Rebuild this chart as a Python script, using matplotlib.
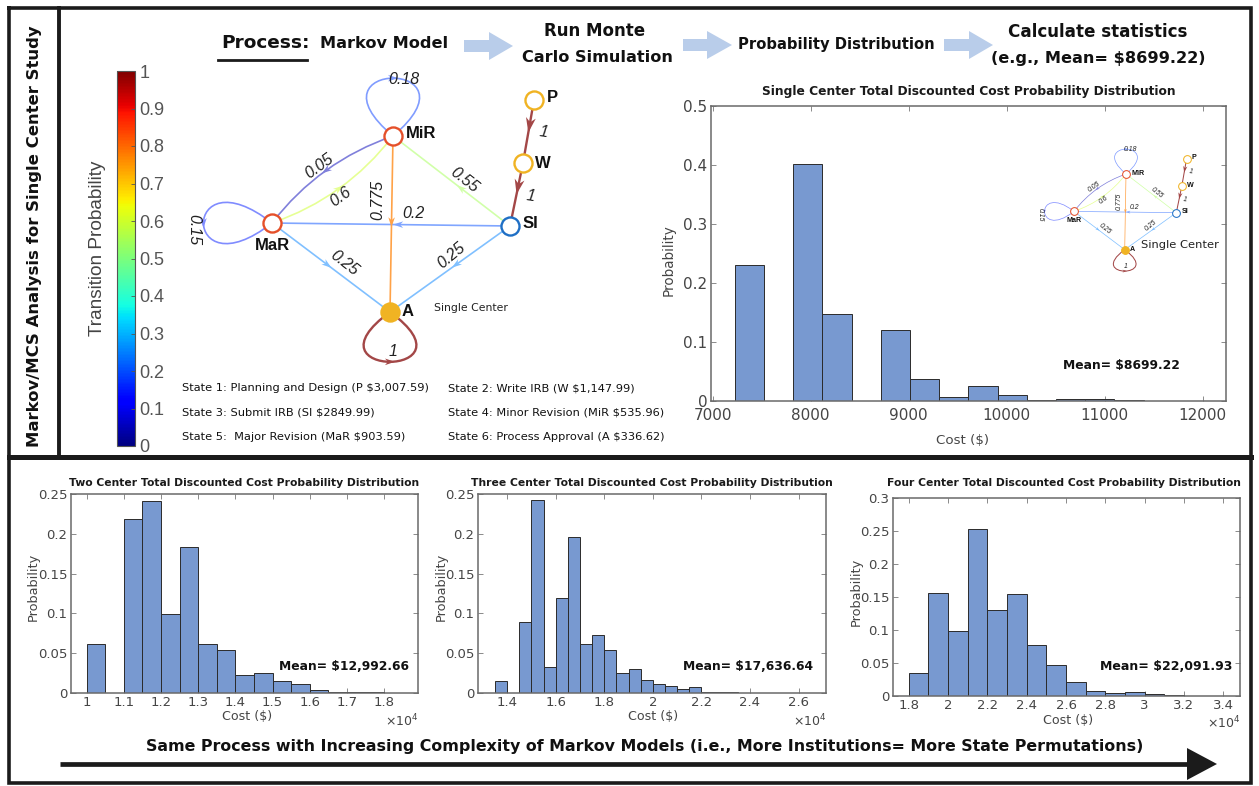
#!/usr/bin/env python3
import numpy as np
import matplotlib
matplotlib.use("Agg")
import matplotlib.pyplot as plt
from matplotlib.patches import Polygon, PathPatch
from matplotlib.path import Path
from matplotlib.colors import Normalize
from matplotlib.colorbar import ColorbarBase

W, H = 1259, 786
COND = ["Liberation Sans Narrow", "DejaVu Sans Condensed", "DejaVu Sans"]
PLAIN = ["Liberation Sans", "DejaVu Sans"]
plt.rcParams["font.family"] = COND

# ---------------- data ----------------
STATES = ["P", "W", "SI", "MiR", "MaR", "A"]
STATE_TEXT = [
    "State 1: Planning and Design (P \\$3,007.59)",
    "State 2: Write IRB (W \\$1,147.99)",
    "State 3: Submit IRB (SI \\$2849.99)",
    "State 4: Minor Revision (MiR \\$535.96)",
    "State 5:  Major Revision (MaR \\$903.59)",
    "State 6: Process Approval (A \\$336.62)",
]
EDGE_SRC = ["MiR", "MiR", "MaR", "MiR", "SI", "SI", "MaR", "SI", "MaR", "A", "P", "W"]
EDGE_DST = ["MiR", "MaR", "MiR", "A", "MiR", "MaR", "A", "A", "MaR", "A", "W", "SI"]
EDGE_P = [0.18, 0.05, 0.6, 0.775, 0.55, 0.2, 0.25, 0.25, 0.15, 1.0, 1.0, 1.0]

HEADER_STEPS = ["Markov Model", "Run Monte\nCarlo Simulation", "Probability Distribution",
                "Calculate statistics\n(e.g., Mean= \\$8699.22)"]

SINGLE_EDGES = [7226, 7524, 7822, 8120, 8418, 8716, 9014, 9312, 9610, 9908,
                10206, 10504, 10802, 11100, 11398]
SINGLE_PROB = [0.230, 0.0, 0.402, 0.148, 0.0, 0.120, 0.037, 0.006, 0.026, 0.011,
               0.001, 0.003, 0.003, 0.001]

TWO_EDGES = [10000, 10500, 11000, 11500, 12000, 12500, 13000, 13500, 14000, 14500,
             15000, 15500, 16000, 16500, 17000, 17500, 18000, 18500]
TWO_PROB = [0.062, 0.0, 0.219, 0.241, 0.099, 0.184, 0.061, 0.054, 0.022, 0.0245,
            0.015, 0.011, 0.0035, 0.0015, 0.0015, 0.0007, 0.0004]

THREE_EDGES = [13500, 14000, 14500, 15000, 15500, 16000, 16500, 17000, 17500, 18000,
               18500, 19000, 19500, 20000, 20500, 21000, 21500, 22000, 22500, 23000,
               23500, 24000, 24500, 25000, 25500, 26000, 26500]
THREE_PROB = [0.0147, 0.0, 0.0895, 0.243, 0.0332, 0.119, 0.1966, 0.061, 0.0727, 0.0546,
              0.0252, 0.0298, 0.0168, 0.0118, 0.0084, 0.0046, 0.0071, 0.0015, 0.0015,
              0.0012, 0.0004, 0.0003, 0.0002, 0.0002, 0.0002, 0.0003]

FOUR_EDGES = [18000, 19000, 20000, 21000, 22000, 23000, 24000, 25000, 26000, 27000,
              28000, 29000, 30000, 31000, 32000, 33000, 34000]
FOUR_PROB = [0.0354, 0.1566, 0.099, 0.2535, 0.1298, 0.155, 0.0768, 0.0465, 0.0207,
             0.0081, 0.004, 0.006, 0.0035, 0.0015, 0.0003, 0.0002]

MEAN_TEXT = ["Mean= \\$8699.22", "Mean= \\$12,992.66", "Mean= \\$17,636.64", "Mean= \\$22,091.93"]
HIST_TITLES = ["Single Center Total Discounted Cost Probability Distribution",
               "Two Center Total Discounted Cost Probability Distribution",
               "Three Center Total Discounted Cost Probability Distribution",
               "Four Center Total Discounted Cost Probability Distribution"]

# ---------------- layout ----------------
NODE_XY = dict(P=(534, 100), W=(523, 163), SI=(510, 226), MiR=(393, 136), MaR=(272, 223), A=(390, 312))
NODE_LABEL_XY = dict(P=(552, 97), W=(543, 163), SI=(530, 223), MiR=(421, 134), MaR=(272, 245), A=(408, 311))
NODE_COLOR = dict(P="#f0b323", W="#f0b323", SI="#1f6fc5", MiR="#e5502a", MaR="#e5502a", A="#f0b323")

EDGE_SHAPE = [
    dict(loop=(0, -1), d=120, th=50, adir=(1, 0), lab=(404, 79), rot=0),
    dict(rad=0.15, lab=(319, 166), rot=36, t=0.5),
    dict(rad=0.15, lab=(341, 197), rot=36, t=0.5),
    dict(rad=0, lab=(378, 200), rot=90, t=0.49),
    dict(rad=0, lab=(464, 180), rot=-38, t=0.42),
    dict(rad=0, lab=(413, 214), rot=0, t=0.47),
    dict(rad=0, lab=(344, 263), rot=-38, t=0.47),
    dict(rad=0, lab=(451, 256), rot=40, t=0.45),
    dict(loop=(-1, 0), d=116, th=38, adir=(0, 1), lab=(194, 230), rot=-90),
    dict(loop=(0, 1), d=113, th=54, adir=(1, 0), lab=(393, 352), rot=0),
    dict(rad=0, lab=(544, 132), rot=-8, t=0.4, ah=15),
    dict(rad=0, lab=(531, 196), rot=-8, t=0.38, ah=15),
]

BAR = "#7899d0"
GRAY = "#454545"

fig = plt.figure(figsize=(W / 100, H / 100), dpi=100)
renderer = fig.canvas.get_renderer()


def px_axes(x0, y0, x1, y1):
    return fig.add_axes([x0 / W, 1 - y1 / H, (x1 - x0) / W, (y1 - y0) / H])


def ftext(x, y, s, width=None, size=12, grow=1.0, **kw):
    kw.setdefault("ha", "center")
    kw.setdefault("va", "center")
    t = fig.text(x / W, 1 - y / H, s, fontsize=size, **kw)
    if width:
        bb = t.get_window_extent(renderer=renderer)
        cur = bb.height if kw.get("rotation", 0) in (90, -90) else bb.width
        t.set_fontsize(size * width * grow / cur)
    return t


def edge_color(p, a=0.55):
    c = np.array(plt.get_cmap("jet")(float(p))[:3])
    return tuple(1 - a * (1 - c))


def rot(v, deg):
    a = np.radians(deg)
    return np.array([v[0] * np.cos(a) - v[1] * np.sin(a), v[0] * np.sin(a) + v[1] * np.cos(a)])


def arrowhead(ax, p, d, size, color):
    d = np.asarray(d, float)
    d = d / np.hypot(*d)
    n = np.array([-d[1], d[0]])
    tip = p + d * size * 0.5
    back = p - d * size * 0.5
    pts = [tip, back + n * size * 0.33, p - d * size * 0.2, back - n * size * 0.33]
    ax.add_patch(Polygon(pts, closed=True, fc=color, ec=color, lw=0, zorder=3))


def draw_network(ax, s=1.0):
    for i, (a, b, p) in enumerate(zip(EDGE_SRC, EDGE_DST, EDGE_P)):
        sh = EDGE_SHAPE[i]
        col = edge_color(p, 0.72 if p >= 0.7 else 0.5)
        lw = (1.7 if p >= 1 else 1.2) * s
        P0 = np.array(NODE_XY[a], float)
        if "loop" in sh:
            u = np.array(sh["loop"], float)
            ua, ub = rot(u, sh["th"]), rot(u, -sh["th"])
            if np.dot(ub - ua, sh["adir"]) < 0:
                ua, ub = ub, ua
            P1 = P0 + sh["d"] * ua
            P2 = P0 + sh["d"] * ub
            path = Path([P0, P1, P2, P0], [Path.MOVETO, Path.CURVE4, Path.CURVE4, Path.CURVE4])
            pt = P0 + 0.375 * sh["d"] * (ua + ub)
            dv = ub - ua
        else:
            P2 = np.array(NODE_XY[b], float)
            v = P2 - P0
            C = (P0 + P2) / 2 + sh["rad"] * np.array([-v[1], v[0]])
            path = Path([P0, C, P2], [Path.MOVETO, Path.CURVE3, Path.CURVE3])
            t = sh["t"]
            pt = (1 - t) ** 2 * P0 + 2 * (1 - t) * t * C + t ** 2 * P2
            dv = 2 * (1 - t) * (C - P0) + 2 * t * (P2 - C)
        ax.add_patch(PathPatch(path, fill=False, ec=col, lw=lw, zorder=2))
        arrowhead(ax, pt, dv, sh.get("ah", 10), col)
        ax.text(sh["lab"][0], sh["lab"][1], f"{p:g}", fontsize=11.5 * s, style="italic",
                family=PLAIN, rotation=sh["rot"], ha="center", va="center", color="#222", zorder=5)
    for name in STATES:
        x, y = NODE_XY[name]
        ax.plot(x, y, "o", ms=13 * s, mfc=NODE_COLOR[name] if name == "A" else "white",
                mec=NODE_COLOR[name], mew=1.7 * s, zorder=4)
        lx, ly = NODE_LABEL_XY[name]
        ax.text(lx, ly, name, fontsize=12 * s, fontweight="bold", family=PLAIN,
                ha="center", va="center", color="#111", zorder=5)


# ---------------- overlay: frames, header, network ----------------
ax0 = fig.add_axes([0, 0, 1, 1])
ax0.set_xlim(0, W)
ax0.set_ylim(H, 0)
ax0.axis("off")

ink = "#1b1b1b"
ax0.plot([9, 1251, 1251, 9, 9], [8, 8, 783, 783, 8], color=ink, lw=2.6, solid_joinstyle="miter")
ax0.plot([9, 1251], [457, 457], color=ink, lw=3.6)
ax0.plot([59, 59], [8, 457], color=ink, lw=2.8)

ftext(35, 236, "Markov/MCS Analysis for Single Center Study", width=410, size=18, grow=1.03,
      rotation=90, fontweight="bold", color="#111")

# process header
ftext(221, 43, "Process:", width=88, size=18, ha="left", fontweight="bold", color="#111")
ax0.plot([218, 307], [60, 60], color=ink, lw=2.0)
ftext(320, 43, HEADER_STEPS[0], width=118, size=16, grow=1.08, ha="left", fontweight="bold", color="#111")
ftext(595, 31, HEADER_STEPS[1].split("\n")[0], width=88, size=16, grow=1.15, fontweight="bold", color="#111")
ftext(597, 57, HEADER_STEPS[1].split("\n")[1], width=137, size=16, grow=1.1, fontweight="bold", color="#111")
ftext(836, 44, HEADER_STEPS[2], width=190, size=16, grow=1.03, fontweight="bold", color="#111")
ftext(1098, 32, HEADER_STEPS[3].split("\n")[0], width=157, size=16, grow=1.15, fontweight="bold", color="#111")
ftext(1098, 58, HEADER_STEPS[3].split("\n")[1], width=195, size=16, grow=1.1, fontweight="bold", color="#111")

for x0, xh, x1, cy in [(464, 489, 513, 46), (683, 707, 732, 45), (944, 969, 993, 45)]:
    ax0.add_patch(Polygon([(x0, cy - 6), (xh, cy - 6), (xh, cy - 14), (x1, cy),
                           (xh, cy + 14), (xh, cy + 6), (x0, cy + 6)],
                          closed=True, fc="#b9cdea", ec="none"))

draw_network(ax0, 1.0)
ftext(471, 308, "Single Center", width=67, size=10, grow=1.1, color="#222")

# state descriptions
t1 = ftext(182, 388, STATE_TEXT[0], width=246, size=11, grow=1.0, ha="left", color="#111")
fs_state = t1.get_fontsize()
for k, txt in enumerate(STATE_TEXT[1:], start=1):
    col, row = k % 2, k // 2
    ftext(182 if col == 0 else 448, 388 + row * 24.5, txt, size=fs_state, ha="left", color="#111")

# colorbar
cax = px_axes(117, 71, 135, 446)
cb = ColorbarBase(cax, cmap=plt.get_cmap("jet"), norm=Normalize(0, 1),
                  ticks=[0, 0.1, 0.2, 0.3, 0.4, 0.5, 0.6, 0.7, 0.8, 0.9, 1])
cb.set_ticklabels(["0", "0.1", "0.2", "0.3", "0.4", "0.5", "0.6", "0.7", "0.8", "0.9", "1"])
cax.tick_params(direction="in", length=3, width=0.6, color="#555", labelsize=13,
                labelcolor="#555", pad=3)
for lbl in cax.get_yticklabels():
    lbl.set_family(PLAIN)
cb.outline.set_edgecolor("#555")
cb.outline.set_linewidth(0.8)
ftext(97, 248, "Transition Probability", width=170, size=14, grow=1.05, rotation=90,
      family=PLAIN, color="#444")


# ---------------- histograms ----------------
def hist_panel(rect, edges, probs, xlim, ylim, xticks, xlabels, yticks, ylabels, fs, xpad=2.5):
    ax = px_axes(*rect)
    e = np.asarray(edges, float)
    ax.bar(e[:-1], probs, width=np.diff(e), align="edge", color=BAR,
           edgecolor="#2b2b2b", linewidth=0.7, zorder=2)
    ax.set_xlim(*xlim)
    ax.set_ylim(*ylim)
    ax.set_xticks(xticks)
    ax.set_xticklabels(xlabels)
    ax.set_yticks(yticks)
    ax.set_yticklabels(ylabels)
    ax.tick_params(direction="in", top=True, right=True, length=3.5, width=0.6,
                   color="#777", labelcolor=GRAY, labelsize=fs, pad=2.5)
    ax.tick_params(axis="x", pad=xpad)
    for sp in ax.spines.values():
        sp.set_color("#6a6a6a")
        sp.set_linewidth(1.1)
    return ax


def g(v):
    return [f"{x:g}" for x in v]


sy = [0, 0.1, 0.2, 0.3, 0.4, 0.5]
sx = [7000, 8000, 9000, 10000, 11000, 12000]
ax1 = hist_panel((711, 106, 1226, 401), SINGLE_EDGES, SINGLE_PROB, (6983, 12239), (0, 0.5),
                 sx, g(sx), sy, g(sy), 11, xpad=5)
by = [0, 0.05, 0.1, 0.15, 0.2, 0.25]
x2 = [10000, 11000, 12000, 13000, 14000, 15000, 16000, 17000, 18000]
ax2 = hist_panel((71, 494, 418, 693), TWO_EDGES, TWO_PROB, (9580, 18910), (0, 0.25),
                 x2, g(np.array(x2) / 1e4), by, g(by), 9.5)
x3 = [14000, 16000, 18000, 20000, 22000, 24000, 26000]
ax3 = hist_panel((478, 494, 826, 693), THREE_EDGES, THREE_PROB, (12800, 27130), (0, 0.25),
                 x3, g(np.array(x3) / 1e4), by, g(by), 9.5)
y4 = [0, 0.05, 0.1, 0.15, 0.2, 0.25, 0.3]
x4 = [18000, 20000, 22000, 24000, 26000, 28000, 30000, 32000, 34000]
ax4 = hist_panel((893, 498, 1240, 696), FOUR_EDGES, FOUR_PROB, (17200, 34850), (0, 0.3),
                 x4, g(np.array(x4) / 1e4), y4, g(y4), 9.5)

# titles, labels, means
ftext(969, 92, HIST_TITLES[0], width=370, size=12, grow=1.12, fontweight="bold", color="#1a1a1a")
tt = ftext(244, 483, HIST_TITLES[1], width=337, size=12, grow=1.04, fontweight="bold", color="#1a1a1a")
fs_t = tt.get_fontsize()
ftext(652, 483, HIST_TITLES[2], size=fs_t, fontweight="bold", color="#1a1a1a")
ftext(1064, 483, HIST_TITLES[3], size=fs_t, fontweight="bold", color="#1a1a1a")

for x, y, L in [(669, 260, 68), (33, 587, 65), (441, 587, 65), (856, 592, 65)]:
    ftext(x, y, "Probability", width=L, size=12, grow=1.05, rotation=90, color=GRAY)
for x, y, L in [(962, 440, 48), (247, 717, 45), (653, 717, 45), (1068, 720, 45)]:
    ftext(x, y, "Cost (\\$)", width=L, size=12, grow=1.1, color=GRAY)
for x, y in [(418, 721), (826, 721), (1240, 723)]:
    ftext(x, y, r"$\times10^4$", size=9, ha="right", color=GRAY)

for (x, y, L), txt in zip([(1180, 365, 106), (409, 667, 117), (813, 667, 118), (1232, 667, 118)],
                          MEAN_TEXT):
    ftext(x, y, txt, width=L, size=14, grow=1.12, ha="right", fontweight="bold", color="#111")

# inset network inside the single-center histogram
s_in = 0.43
axi = px_axes(1126 + (180 - 393) * s_in, 174 + (60 - 136) * s_in,
              1126 + (570 - 393) * s_in, 174 + (370 - 136) * s_in)
axi.set_xlim(180, 570)
axi.set_ylim(370, 60)
axi.axis("off")
axi.patch.set_alpha(0)
draw_network(axi, s_in)
ftext(1180, 245, "Single Center", width=69, size=12, grow=1.12, color="#222")

# bottom statement and arrow
ftext(645, 746, "Same Process with Increasing Complexity of Markov Models "
      "(i.e., More Institutions= More State Permutations)", width=927, size=18, grow=1.08,
      fontweight="bold", color="#111")
ax0.plot([60, 1192], [764, 764], color=ink, lw=3.4, solid_capstyle="butt")
ax0.add_patch(Polygon([(1187, 748), (1217, 764), (1187, 780)], closed=True, fc=ink, ec="none"))

fig.savefig("out.png", dpi=100)
